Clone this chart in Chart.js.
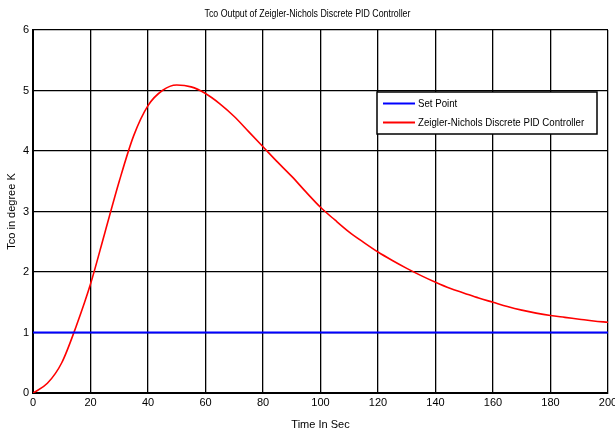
<!DOCTYPE html>
<html>
<head>
<meta charset="utf-8">
<script src="https://cdn.jsdelivr.net/npm/chart.js@4"></script>
<style>
  html, body { margin: 0; padding: 0; background: #fff; }
  #wrap { width: 615px; height: 432px; }
</style>
</head>
<body>
<div id="wrap"><canvas id="chart" width="615" height="432"></canvas></div>
<script>
// time in seconds and the controller output
const timeSec = [0, 5, 10, 15, 20, 25, 30, 35, 40, 45, 50, 55, 60, 65, 70, 75, 80, 85, 90, 95,
  100, 105, 110, 115, 120, 125, 130, 135, 140, 145, 150, 155, 160, 165, 170, 175, 180, 185, 190, 195, 200]
const pidOutput = [0, 0.16, 0.50, 1.10, 1.80, 2.65, 3.50, 4.25, 4.75, 5.00, 5.09, 5.06, 4.95, 4.78, 4.57, 4.32, 4.07, 3.82, 3.58, 3.32,
  3.07, 2.86, 2.66, 2.49, 2.33, 2.19, 2.06, 1.94, 1.83, 1.73, 1.65, 1.57, 1.50, 1.43, 1.37, 1.32, 1.28, 1.25, 1.22, 1.19, 1.17]
const setPointTime = [0, 200]
const setPointValue = [1, 1]

const seriesLabels = ["Set Point", "Zeigler-Nichols Discrete PID Controller"]
const seriesColors = ["#0000ff", "#ff0000"]
const chartTitle = "Tco Output of Zeigler-Nichols Discrete PID Controller"

const fontFamily = "'Liberation Sans', Arial, sans-serif"

// the original uses a narrow font, so squeeze the text a bit
function narrowText(ctx, text, x, y, squeeze, align) {
    ctx.save()
    ctx.translate(x, y)
    ctx.scale(squeeze, 1)
    ctx.textAlign = align
    ctx.fillText(text, 0, 0)
    ctx.restore()
}

// title + legend drawn inside the plot box, like matlab does
const boxLegend = {
    id: "boxLegend",
    afterDraw(chart) {
        const ctx = chart.ctx
        ctx.save()
        ctx.fillStyle = "#000"
        ctx.font = "11px " + fontFamily
        ctx.textBaseline = "middle"
        narrowText(ctx, chartTitle, chart.width / 2, 14, 0.8, "center")

        const x = 377, y = 92, w = 220, h = 42
        ctx.fillStyle = "#fff"
        ctx.fillRect(x, y, w, h)
        ctx.strokeStyle = "#000"
        ctx.lineWidth = 1.5
        ctx.strokeRect(x, y, w, h)
        chart.data.datasets.forEach((ds, i) => {
            const rowY = y + 11.5 + i * 19
            ctx.strokeStyle = ds.borderColor
            ctx.lineWidth = 2
            ctx.beginPath()
            ctx.moveTo(x + 6, rowY)
            ctx.lineTo(x + 38, rowY)
            ctx.stroke()
            ctx.fillStyle = "#000"
            narrowText(ctx, ds.label, x + 41, rowY, 0.88, "left")
        })
        ctx.restore()
    }
}

const chart = new Chart(document.getElementById("chart"), {
    type: "line",
    data: {
        datasets: [{
            label: seriesLabels[0],
            data: setPointTime.map((t, i) => ({x: t, y: setPointValue[i]})),
            borderColor: seriesColors[0],
            borderWidth: 2,
            pointRadius: 0,
            fill: false
        }, {
            label: seriesLabels[1],
            data: timeSec.map((t, i) => ({x: t, y: pidOutput[i]})),
            borderColor: seriesColors[1],
            borderWidth: 1.6,
            pointRadius: 0,
            cubicInterpolationMode: "monotone",
            fill: false
        }]
    },
    options: {
        responsive: false,
        animation: false,
        layout: { padding: { left: 0, right: 7, top: 30, bottom: 0 } },
        plugins: {
            legend: { display: false },
            tooltip: { enabled: false },
            title: { display: false }
        },
        scales: {
            x: {
                type: "linear",
                min: 0,
                max: 200,
                ticks: {
                    stepSize: 20,
                    color: "#000",
                    padding: 3,
                    maxRotation: 0,
                    font: { family: fontFamily, size: 11 }
                },
                grid: { color: "#000", lineWidth: 1.3, drawTicks: false },
                border: { color: "#000", width: 2 },
                title: {
                    display: true,
                    text: "Time In Sec",
                    color: "#000",
                    font: { family: fontFamily, size: 11 },
                    padding: { top: 0, bottom: 0 }
                },
                afterFit(scale) {
                    scale.height = 39
                    scale.paddingRight = 0
                }
            },
            y: {
                min: 0,
                max: 6,
                ticks: {
                    stepSize: 1,
                    color: "#000",
                    padding: 4,
                    font: { family: fontFamily, size: 11 }
                },
                grid: { color: "#000", lineWidth: 1.3, drawTicks: false },
                border: { color: "#000", width: 2 },
                title: {
                    display: true,
                    text: "Tco in degree K",
                    color: "#000",
                    font: { family: fontFamily, size: 11 },
                    padding: { top: 5, bottom: 0 }
                },
                afterFit(scale) { scale.width = 33 }
            }
        }
    },
    plugins: [boxLegend]
})
</script>
</body>
</html>
